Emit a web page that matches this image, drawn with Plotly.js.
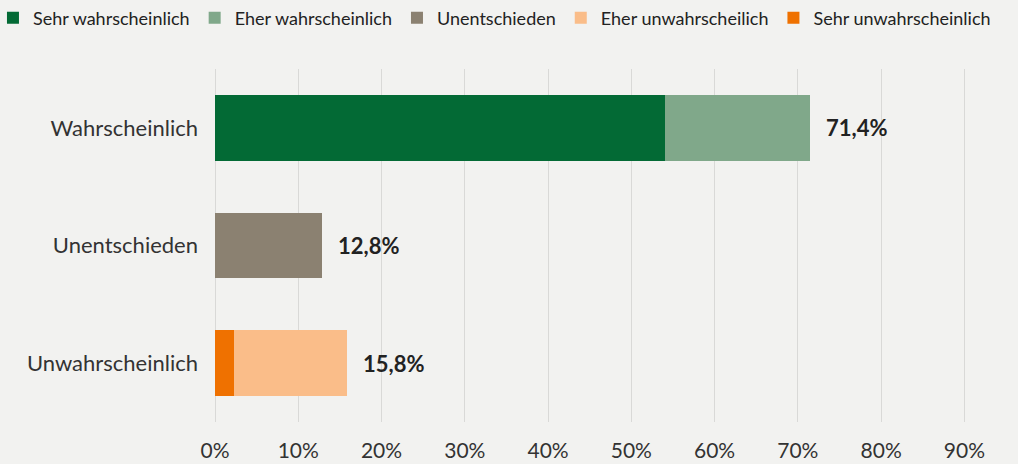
<!DOCTYPE html>
<html>
<head>
<meta charset="utf-8">
<script src="https://cdn.plot.ly/plotly-3.0.1.min.js"></script>
<style>html,body{margin:0;padding:0;background:#f2f2f0;}#chart{width:1018px;height:464px;}</style>
</head>
<body>
<div id="chart"></div>
<script>
const categories = ["Wahrscheinlich", "Unentschieden", "Unwahrscheinlich"];
const sehrWahrscheinlich = [54.1, 0, 0];
const eherWahrscheinlich = [17.3, 0, 0];
const unentschieden = [0, 12.8, 0];
const eherUnwahrscheinlich = [0, 0, 13.5];
const sehrUnwahrscheinlich = [0, 0, 2.3];
const totals = [71.4, 12.8, 15.8];
const totalLabels = ["71,4%", "12,8%", "15,8%"];
const xTickValues = [0, 10, 20, 30, 40, 50, 60, 70, 80, 90];
const xTickLabels = ["0%", "10%", "20%", "30%", "40%", "50%", "60%", "70%", "80%", "90%"];

const colors = {
  "Sehr wahrscheinlich": "#036a35",
  "Eher wahrscheinlich": "#80a88a",
  "Unentschieden": "#8b8171",
  "Eher unwahrscheilich": "#fabd89",
  "Sehr unwahrscheinlich": "#ef7100"
};

const font = "Lato, 'Open Sans', sans-serif";

function barTrace(name, vals, rank) {
  return {
    type: "bar", orientation: "h", name: name,
    y: categories, x: vals,
    marker: {color: colors[name], line: {width: 0}},
    width: 0.56, legendrank: rank,
    hoverinfo: "x+name"
  };
}

const traces = [
  barTrace("Sehr wahrscheinlich", sehrWahrscheinlich, 1),
  barTrace("Eher wahrscheinlich", eherWahrscheinlich, 2),
  barTrace("Unentschieden", unentschieden, 3),
  barTrace("Sehr unwahrscheinlich", sehrUnwahrscheinlich, 5),
  barTrace("Eher unwahrscheilich", eherUnwahrscheinlich, 4)
];

const annotations = categories.map((c, i) => ({
  x: totals[i], y: c, xref: "x", yref: "y",
  text: "<b>" + totalLabels[i] + "</b>",
  showarrow: false, xanchor: "left", xshift: 14,
  font: {family: font, size: 22, color: "#222222"}
}));

const layout = {
  width: 1018, height: 464,
  paper_bgcolor: "#f2f2f0", plot_bgcolor: "#f2f2f0",
  barmode: "stack",
  margin: {l: 215, r: 12, t: 69, b: 42, autoexpand: false},
  font: {family: font, color: "#333333"},
  showlegend: true,
  legend: {
    orientation: "h", xref: "paper", yref: "paper",
    x: -0.2807, xanchor: "left", y: 1.1445, yanchor: "middle",
    font: {family: font, size: 18, color: "#222222"},
    traceorder: "normal", itemwidth: 30, bgcolor: "rgba(0,0,0,0)"
  },
  xaxis: {
    range: [0, 95], tickvals: xTickValues, ticktext: xTickLabels,
    showgrid: true, gridcolor: "#d9d9d7", gridwidth: 1,
    zeroline: true, zerolinecolor: "#d9d9d7", zerolinewidth: 1,
    showline: false, ticks: "", ticklabelstandoff: 14,
    tickfont: {family: font, size: 21, color: "#333333"},
    fixedrange: true
  },
  yaxis: {
    categoryorder: "array", categoryarray: categories.slice().reverse(),
    range: [-0.5, 2.5],
    showgrid: false, zeroline: false, showline: false, ticks: "",
    ticklabelstandoff: 16,
    tickfont: {family: font, size: 22, color: "#333333"},
    fixedrange: true
  },
  annotations: annotations
};

Plotly.newPlot("chart", traces, layout, {displayModeBar: false, staticPlot: true});
</script>
</body>
</html>
